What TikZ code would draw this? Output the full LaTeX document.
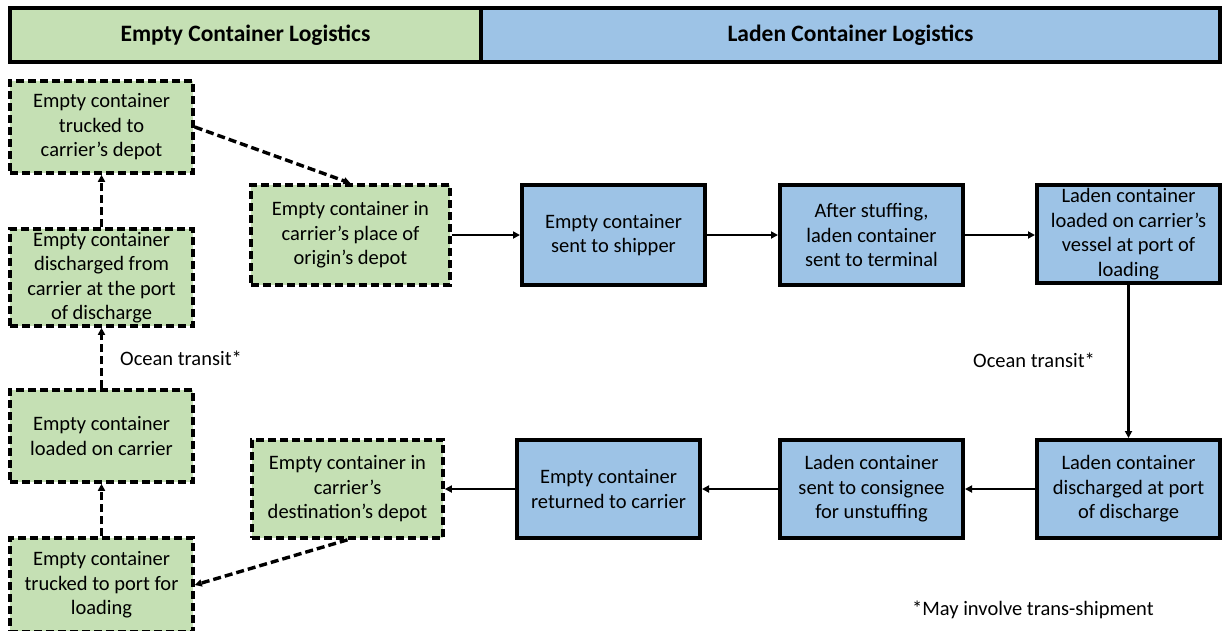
\documentclass[tikz,border=0pt]{standalone}
\usepackage{fontspec}
\setmainfont{Carlito}
\usetikzlibrary{arrows.meta}
\definecolor{emptygreen}{HTML}{C5E0B4}
\definecolor{ladenblue}{HTML}{9DC3E6}
\tikzset{
  boxfont/.style={font=\fontsize{20.5}{24.5}\selectfont},
  hdrbox/.style={draw, line width=4pt, inner sep=0pt, minimum height=54pt,
    font=\fontsize{23.5}{27}\selectfont\bfseries},
  gbox/.style={draw, line width=3.6pt, dash pattern=on 8pt off 4pt, fill=emptygreen,
    align=center, inner sep=0pt, minimum width=183pt, boxfont},
  bbox/.style={draw, line width=4pt, fill=ladenblue,
    align=center, inner sep=0pt, minimum width=183pt, boxfont},
  flow/.style={line width=2.5pt, -{Triangle[length=7pt,width=7pt]}},
  eflow/.style={line width=3.4pt, dash pattern=on 8pt off 4pt, -{Triangle[length=7pt,width=7pt]}},
  note/.style={boxfont, inner sep=0pt}
}
\begin{document}
\begin{tikzpicture}[x=1pt, y=-1pt]
\useasboundingbox (0,0) rectangle (1224,630);

% column headers
\node[hdrbox, fill=emptygreen, minimum width=471pt] (hdrE) at (245.5,35) {Empty Container Logistics};
\node[hdrbox, fill=ladenblue, minimum width=739pt] (hdrL) at (850.5,35) {Laden Container Logistics};

% empty container steps (left column and depots)
\node[gbox, minimum height=92pt] (truckdepot) at (101.5,127) {Empty container\\trucked to\\carrier’s depot};
\node[gbox, minimum height=97pt] (dischempty) at (101.5,277.5) {Empty container\\discharged from\\carrier at the port\\of discharge};
\node[gbox, minimum height=92pt] (loadempty) at (101.5,436) {Empty container\\loaded on carrier};
\node[gbox, minimum height=94pt] (truckport) at (101.5,585) {Empty container\\trucked to port for\\loading};
\node[gbox, minimum width=199pt, minimum height=100pt] (origin) at (350.5,235) {Empty container in\\carrier’s place of\\origin’s depot};
\node[gbox, minimum width=191pt, minimum height=98pt] (dest) at (347.5,489) {Empty container in\\carrier’s\\destination’s depot};

% laden container steps
\node[bbox, minimum height=100pt] (shipper) at (613.5,235) {Empty container\\sent to shipper};
\node[bbox, minimum height=100pt] (stuffing) at (871.5,235) {After stuffing,\\laden container\\sent to terminal};
\node[bbox, minimum height=98pt] (vessel) at (1128.5,234) {Laden container\\loaded on carrier’s\\vessel at port of\\loading};
\node[bbox, minimum height=98pt] (dischladen) at (1128.5,489) {Laden container\\discharged at port\\of discharge};
\node[bbox, minimum height=98pt] (consignee) at (871.5,489) {Laden container\\sent to consignee\\for unstuffing};
\node[bbox, minimum height=98pt] (returned) at (608.5,489) {Empty container\\returned to carrier};

% laden flow
\draw[flow] (origin.east) -- (shipper.west);
\draw[flow] (shipper.east) -- (stuffing.west);
\draw[flow] (stuffing.east) -- (stuffing.east -| vessel.west);
\draw[flow] (vessel.south) -- (dischladen.north);
\draw[flow] (dischladen.west) -- (consignee.east);
\draw[flow] (consignee.west) -- (returned.east);
\draw[flow] (returned.west) -- (dest.east);

% empty flow
\draw[eflow] (dest.south) -- (truckport.east);
\draw[eflow] (truckport.north) -- (loadempty.south);
\draw[eflow] (loadempty.north) -- (dischempty.south);
\draw[eflow] (dischempty.north) -- (truckdepot.south);
\draw[eflow] (truckdepot.east) -- (origin.north);

% labels
\node[note, anchor=west] (oceanE) at (120,358) {Ocean transit*};
\node[note, anchor=west] (oceanL) at (973,360) {Ocean transit*};
\node[note, anchor=west] (footnote) at (912,610) {*May involve trans-shipment};
\end{tikzpicture}
\end{document}
